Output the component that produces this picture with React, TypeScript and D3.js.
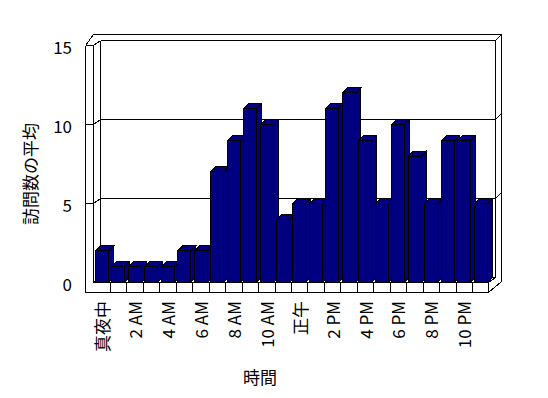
import React from "react";
import * as d3 from "d3";

const categories = [
  "真夜中", "1", "2 AM", "3", "4 AM", "5", "6 AM", "7", "8 AM", "9", "10 AM", "11",
  "正午", "13", "2 PM", "15", "4 PM", "17", "6 PM", "19", "8 PM", "21", "10 PM", "23",
];
const tickLabelsX = ["真夜中", "2 AM", "4 AM", "6 AM", "8 AM", "10 AM", "正午", "2 PM", "4 PM", "6 PM", "8 PM", "10 PM"];
const values = [2, 1, 1, 1, 1, 2, 2, 7, 9, 11, 10, 4, 5, 5, 11, 12, 9, 5, 10, 8, 5, 9, 9, 5];
const yTicks = [0, 5, 10, 15];
const yTitle = "訪問数の平均";
const xTitle = "時間";

const W = 548, H = 398;
const FONT = "'Noto Sans CJK JP', 'Noto Sans', sans-serif";

export default function App() {
  // front plane
  const xL = 93.5, xR = 488.5;
  const x = d3.scaleBand<string>().domain(categories).range([xL, xR]).paddingInner(0.18).paddingOuter(0.09);
  const cell = d3.scaleBand<string>().domain(categories).range([xL, xR]).padding(0);
  const yF = d3.scaleLinear().domain([0, 15]).range([282.5, 45.5]);
  // back wall inner plane offset
  const bdx = 7, bdy = -5;
  const yB = (v: number) => yF(v) + bdy;
  const xBL = xL + bdx, xBR = xR + bdx;
  // outer frame
  const xOutL = 85.5, yFloorBot = 292.5, xOutR = 501.5, yOutTop = yF(15) - 11;
  // bar depth
  const dx = 5, dy = -5;
  const bw = Math.round(x.bandwidth());
  const y0 = yF(0);

  const ln = (x1: number, y1: number, x2: number, y2: number, k: string) => (
    <line key={k} x1={x1} y1={y1} x2={x2} y2={y2} stroke="#000" strokeWidth={1} />
  );

  const frame: React.ReactNode[] = [];
  frame.push(<rect key="bw" x={xBL} y={yB(15)} width={xBR - xBL} height={yB(0) - yB(15)} fill="#fff" />);
  frame.push(ln(xL, yOutTop, xOutR, yOutTop, "ot"));
  frame.push(ln(xBL, yB(15), xBR, yB(15), "it"));
  frame.push(ln(xOutR, yOutTop, xOutR, yFloorBot - 11, "or"));
  frame.push(ln(xBR, yB(15), xBR, yB(0), "ir"));
  frame.push(ln(xBR, yB(15), xOutR, yOutTop, "trd"));
  frame.push(ln(xBL, yB(15), xBL, yB(0), "il"));
  frame.push(ln(xOutL, yF(15), xOutL, yFloorBot, "lwo"));
  frame.push(ln(xL, yF(15), xL, y0, "lwi"));
  frame.push(ln(xOutL, yF(15), xL, yF(15), "lwt"));
  frame.push(ln(xOutL, yF(15), xL, yOutTop, "lwd1"));
  frame.push(ln(xL, yF(15), xBL, yB(15), "lwd2"));
  [5, 10].forEach((v) => {
    frame.push(ln(xOutL, yF(v), xL, yF(v), "gt" + v));
    frame.push(ln(xL, yF(v), xBL, yB(v), "gd" + v));
    frame.push(ln(xBL, yB(v), xBR, yB(v), "gb" + v));
    frame.push(ln(xBR, yB(v), xOutR, yB(v) - 6, "gr" + v));
  });
  frame.push(ln(xBL, yB(0), xBR, yB(0), "fb"));
  frame.push(ln(xL, y0, xBL, yB(0), "fdl"));
  frame.push(ln(xL, y0, xR, y0, "fft"));
  frame.push(ln(xOutL, yFloorBot, xR, yFloorBot, "ffb"));
  frame.push(ln(xR, y0, xR, yFloorBot, "ffr"));
  frame.push(ln(xR, yFloorBot, xOutR, yFloorBot - 11, "ffd"));
  frame.push(ln(xR, y0, xBR, yB(0), "ffd2"));
  categories.forEach((c, i) => {
    if (i > 0) {
      const cx = Math.round(cell(c)!) + 0.5;
      frame.push(ln(cx, y0, cx, yFloorBot, "cd" + i));
    }
  });

  const bars = categories.map((c, i) => {
    const bx = Math.round(x(c)!) + 0.5;
    const yt = yF(values[i]);
    const fill = "#000080";
    return (
      <g key={"b" + i} stroke="#000" strokeWidth={1}>
        <polygon fill={fill} points={`${bx + bw},${yt} ${bx + bw + dx},${yt + dy} ${bx + bw + dx},${y0 + dy} ${bx + bw},${y0}`} />
        <polygon fill={fill} points={`${bx},${yt} ${bx + dx},${yt + dy} ${bx + bw + dx},${yt + dy} ${bx + bw},${yt}`} />
        <rect fill={fill} x={bx} y={yt} width={bw} height={y0 - yt} />
      </g>
    );
  });

  return (
    <svg width={W} height={H} style={{ position: "absolute", left: 0, top: 0, background: "#fff" }} fontFamily={FONT}>
      <rect x={0} y={0} width={W} height={H} fill="#fff" />
      <g shapeRendering="crispEdges">
        {frame}
        {bars}
      </g>
      {yTicks.map((v) => (
        <text key={"yl" + v} x={72} y={yF(v) + 1} textAnchor="end" dominantBaseline="central" fontSize={17} fill="#000">
          {v}
        </text>
      ))}
      {tickLabelsX.map((t) => {
        const cx = cell(t)! + cell.bandwidth() / 2;
        return (
          <text key={"xl" + t} transform={`translate(${cx},301) rotate(-90)`} textAnchor="end" dominantBaseline="central" fontSize={17} fill="#000">
            {t}
          </text>
        );
      })}
      <text transform={`translate(29,174) rotate(-90)`} textAnchor="middle" dominantBaseline="central" fontSize={17} fill="#000">
        {yTitle}
      </text>
      <text x={260} y={376} textAnchor="middle" dominantBaseline="central" fontSize={17} fill="#000">
        {xTitle}
      </text>
    </svg>
  );
}
